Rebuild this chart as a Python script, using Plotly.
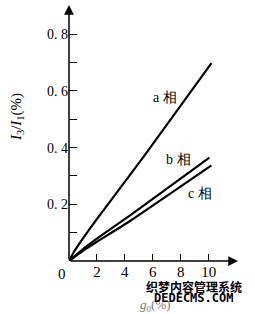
import plotly.graph_objects as go

# data
x_a = [0, 0.4, 0.9, 2.1, 5.4, 10.2]
y_a = [0, 0.036, 0.073, 0.155, 0.372, 0.698]
x_b = [0, 1, 2, 4.4, 10.05]
y_b = [0, 0.042, 0.079, 0.162, 0.365]
x_c = [0, 1, 2, 4.4, 10.2]
y_c = [0, 0.036, 0.068, 0.142, 0.337]
xtick_vals = [2, 4, 6, 8, 10]
ytick_vals = [0.1, 0.2, 0.3, 0.4, 0.5, 0.6, 0.7, 0.8]
ytick_text = ["", "0. 2", "", "0. 4", "", "0. 6", "", "0. 8"]
labels = ["a 相", "b 相", "c 相"]

serif = "Liberation Serif, DejaVu Serif, serif"
L, T, W, H = 69, 5, 169.4, 256.0


def px(x, y):
    return dict(xref="paper", yref="paper", x=(x - L) / W, y=(T + H - y) / H,
                xanchor="center", yanchor="middle", showarrow=False)


fig = go.Figure()
for xs, ys in [(x_a, y_a), (x_b, y_b), (x_c, y_c)]:
    fig.add_trace(go.Scatter(x=xs, y=ys, mode="lines",
                             line=dict(color="black", width=2.2, shape="spline", smoothing=0.5),
                             showlegend=False, hoverinfo="skip"))

X0, X1 = 0, 12.1
Y0, Y1 = 0, 0.903
fig.update_layout(
    width=255, height=314,
    margin=dict(l=L, r=255 - L - W, t=T, b=314 - T - H, autoexpand=False),
    paper_bgcolor="white", plot_bgcolor="white",
    font=dict(family=serif, size=14, color="black"),
    xaxis=dict(range=[X0, X1], showgrid=False, zeroline=False, showline=False,
               tickvals=xtick_vals, ticks="inside", ticklen=7, tickwidth=1.2,
               tickcolor="black", tickfont=dict(size=15)),
    yaxis=dict(range=[Y0, Y1], showgrid=False, zeroline=False, showline=False,
               tickvals=ytick_vals, ticktext=ytick_text, ticks="inside",
               ticklen=8, tickwidth=1.2, tickcolor="black", tickfont=dict(size=14)),
)
# axis arrows
for tip in [(X1, 0), (0, Y1)]:
    fig.add_annotation(x=tip[0], y=tip[1], ax=0, ay=0, xref="x", yref="y", axref="x", ayref="y",
                       showarrow=True, arrowhead=2, arrowsize=1.3, arrowwidth=1.5,
                       arrowcolor="black", text="")

# series labels
fig.add_annotation(**px(165, 97), text=labels[0], font=dict(size=14))
fig.add_annotation(**px(179, 159), text=labels[1], font=dict(size=14))
fig.add_annotation(**px(200, 193), text=labels[2], font=dict(size=14))

# origin label
fig.add_annotation(**px(62, 274), text="0", font=dict(size=15))

# axis titles
fig.add_annotation(**px(17, 117), text="<i>I</i><sub>3</sub>/<i>I</i><sub>1</sub>(%)",
                   textangle=-90, font=dict(size=15))
fig.add_annotation(**px(156, 305), text="<i>g</i><sub>0</sub>(%)",
                   font=dict(size=13, color="#777"))
# watermark
fig.add_annotation(**px(194, 286), text="<b>织梦内容管理系统</b>",
                   font=dict(family="Noto Sans CJK SC", size=12, color="black"))
fig.add_annotation(**px(194, 297.5), text="<b>DEDECMS.COM</b>",
                   font=dict(family="DejaVu Sans Mono", size=12, color="black"))

fig.write_html("out.html")
